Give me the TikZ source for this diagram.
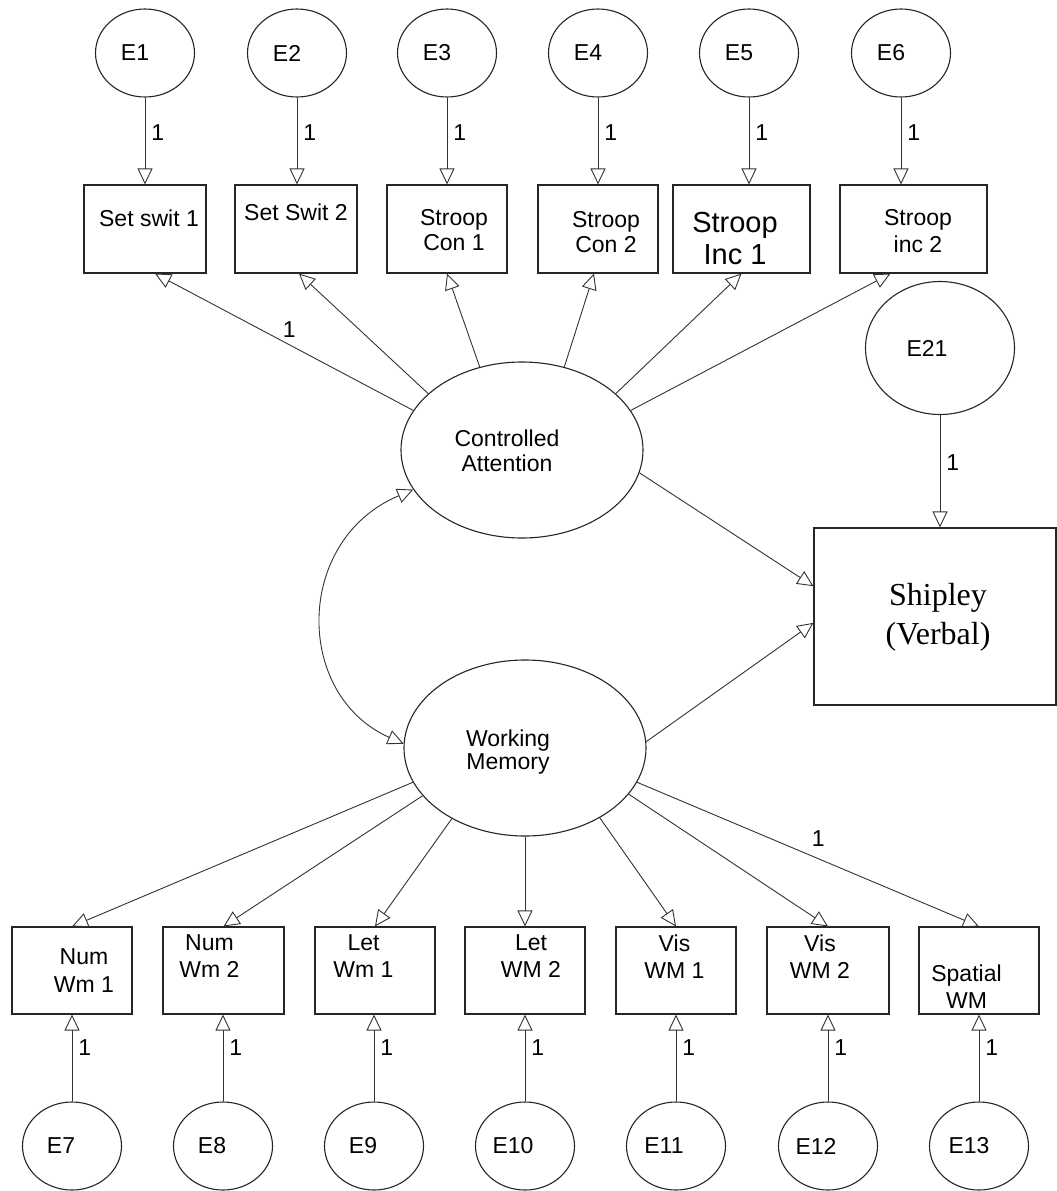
\documentclass[tikz,border=0pt]{standalone}
\usepackage{fontspec}
\setmainfont{Liberation Sans}
\newfontfamily\shipfont{Liberation Serif}
\usetikzlibrary{shapes.geometric,arrows.meta,calc}
\begin{document}
\begin{tikzpicture}[x=1pt,y=-1pt,
  err/.style={ellipse,draw=black!85,line width=1.1pt,minimum width=99pt,minimum height=88pt,inner sep=0pt,font=\fontsize{23}{26}\selectfont},
  obs/.style={rectangle,draw=black!85,line width=1.1pt,inner sep=0pt},
  lat/.style={ellipse,draw=black!85,line width=1.1pt,minimum width=242pt,minimum height=176pt,inner sep=0pt},
  txt/.style={inner sep=0pt,align=center,font=\fontsize{23}{25}\selectfont},
  txtb/.style={inner sep=0pt,align=center,font=\fontsize{23}{27}\selectfont},
  arr/.style={draw=black!80,line width=0.9pt,-{Triangle[open,length=16pt,width=15pt]}},
  one/.style={font=\fontsize{23}{26}\selectfont,inner sep=0pt}
]
\fill[white] (0,0) rectangle (1057,1191);
\useasboundingbox (0,0) rectangle (1057,1191);

% top error terms
\node[err] (e1) at (145,53) {E1\hspace*{20pt}};
\node[err] (e2) at (297,53) {E2\hspace*{20pt}};
\node[err] (e3) at (447,53) {E3\hspace*{20pt}};
\node[err] (e4) at (598,53) {E4\hspace*{20pt}};
\node[err] (e5) at (749,53) {E5\hspace*{20pt}};
\node[err] (e6) at (901,53) {E6\hspace*{20pt}};

% top observed boxes
\node[obs,minimum width=122pt,minimum height=88pt] (b1) at (145,229) {};
\node[obs,minimum width=122pt,minimum height=88pt] (b2) at (296,229) {};
\node[obs,minimum width=120pt,minimum height=88pt] (b3) at (447,229) {};
\node[obs,minimum width=120pt,minimum height=88pt] (b4) at (598,229) {};
\node[obs,minimum width=137pt,minimum height=88pt] (b5) at (741.5,229) {};
\node[obs,minimum width=147pt,minimum height=88pt] (b6) at (913.5,229) {};

\node[txt] (t1) at (149,218) {Set swit 1};
\node[txt] (t2) at (296,212) {Set Swit 2};
\node[txt] (t3) at (454,230.5) {Stroop\\Con 1};
\node[txt] (t4) at (606,232.5) {Stroop\\Con 2};
\node[inner sep=0pt,align=center,font=\fontsize{29}{32}\selectfont] (t5) at (735,239) {Stroop\\Inc 1};
\node[txtb] (t6) at (918,231.5) {Stroop\\inc 2};

% latent variables
\node[lat] (ca) at (522,450) {};
\node[txt] (tca) at (507,450.5) {Controlled\\Attention};
\node[lat] (wm) at (525,748) {};
\node[inner sep=0pt,align=center,font=\fontsize{23}{23}\selectfont] (twm) at (508,752) {Working\\Memory};

% Shipley and E21
\node[obs,minimum width=242pt,minimum height=177pt] (sh) at (935,616.5) {};
\node[inner sep=0pt,align=center,font=\shipfont\fontsize{32}{39}\selectfont] (tsh) at (938,617.5) {Shipley\\(Verbal)};
\node[ellipse,draw=black!85,line width=1.1pt,minimum width=149pt,minimum height=133pt,inner sep=0pt,font=\fontsize{23}{26}\selectfont] (e21) at (940,348) {E21\hspace*{26pt}};

% bottom observed boxes
\node[obs,minimum width=120pt,minimum height=87pt] (b7) at (72,970.5) {};
\node[obs,minimum width=121pt,minimum height=87pt] (b8) at (223.5,970.5) {};
\node[obs,minimum width=120pt,minimum height=87pt] (b9) at (375,970.5) {};
\node[obs,minimum width=120pt,minimum height=87pt] (b10) at (525,970.5) {};
\node[obs,minimum width=120pt,minimum height=87pt] (b11) at (676,970.5) {};
\node[obs,minimum width=122pt,minimum height=87pt] (b12) at (828,970.5) {};
\node[obs,minimum width=120pt,minimum height=87pt] (b13) at (979,970.5) {};

\node[inner sep=0pt,align=center,font=\fontsize{23}{28}\selectfont] (t7) at (84,971) {Num\\Wm 1};
\node[txtb] (t8) at (209.5,956.5) {Num\\Wm 2};
\node[txtb] (t9) at (363.5,956.5) {Let\\Wm 1};
\node[txtb] (t10) at (531,956.5) {Let\\WM 2};
\node[txtb] (t11) at (674.5,956.5) {Vis\\WM 1};
\node[txtb] (t12) at (820,956.5) {Vis\\WM 2};
\node[txtb] (t13) at (966.5,986.5) {Spatial\\WM};

% bottom error terms
\node[err] (e7) at (72,1146) {E7\hspace*{22pt}};
\node[err] (e8) at (223,1146) {E8\hspace*{22pt}};
\node[err] (e9) at (374,1146) {E9\hspace*{22pt}};
\node[err] (e10) at (525,1146) {E10\hspace*{24pt}};
\node[err] (e11) at (676,1146) {E11\hspace*{24pt}};
\node[err] (e12) at (828,1146) {E12\hspace*{24pt}};
\node[err] (e13) at (979,1146) {E13\hspace*{20pt}};

% error -> top boxes
\foreach \i in {1,...,6}{
  \draw[arr] (e\i.south) -- (e\i.south |- b\i.north) node[pos=.4,right=6pt,one]{1};
}
% error -> bottom boxes
\foreach \i in {7,...,13}{
  \draw[arr] (e\i.north) -- (e\i.north |- b\i.south) node[pos=.62,right=6pt,one]{1};
}
% E21 -> Shipley
\draw[arr] (e21.south) -- (e21.south |- sh.north) node[pos=.42,right=6pt,one]{1};

% Controlled Attention -> indicators
\draw[arr] (ca.160) -- ($(b1.south)+(10,0)$) node[pos=.48,above=7pt,one]{1};
\draw[arr] (ca.149) -- ($(b2.south)+(3,0)$);
\draw[arr] (ca.117) -- (b3.south);
\draw[arr] (ca.63) -- ($(b4.south)+(-4,0)$);
\draw[arr] (ca.31) -- (b5.south);
\draw[arr] (ca.20) -- ($(b6.south)+(-23,0)$);

% Working Memory -> indicators
\draw[arr] (wm.197) -- (b7.north);
\draw[arr] (wm.205) -- (b8.north);
\draw[arr] (wm.224) -- (b9.north);
\draw[arr] (wm.270) -- (b10.north);
\draw[arr] (wm.317) -- (b11.north);
\draw[arr] (wm.336) -- (b12.north);
\draw[arr] (wm.343) -- (b13.north) node[pos=.53,above=12pt,one]{1};

% structural paths
\draw[arr] (ca.349) -- (sh.166);
\draw[arr] (wm.3) -- (sh.183);

% covariance
\draw[draw=black!80,line width=0.9pt,{Triangle[open,length=16pt,width=15pt]}-{Triangle[open,length=16pt,width=15pt]}]
  (ca.200) .. controls (294,540) and (294,695) .. (wm.178);
\end{tikzpicture}
\end{document}
